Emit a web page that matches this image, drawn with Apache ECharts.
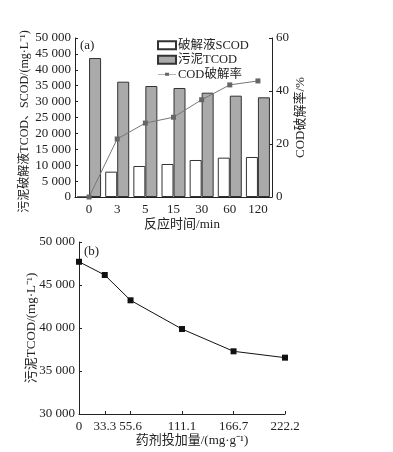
<!DOCTYPE html>
<html><head><meta charset="utf-8">
<script src="https://cdn.jsdelivr.net/npm/echarts@6/dist/echarts.min.js"></script>
<style>html,body{margin:0;padding:0;background:#fff}#c{width:393px;height:452px}</style>
</head><body><div id="c"></div>
<script>
// (a) data
var timeCats = ['0', '3', '5', '15', '30', '60', '120'];
var scod = [0, 7960, 9750, 10380, 11640, 12370, 12580];
var tcod = [43700, 36260, 34900, 34280, 32800, 31860, 31350];
var rate = [0, 21.9, 27.9, 30.1, 36.7, 42.3, 43.8];
// (b) data
var doseLabels = ['0', '33.3', '55.6', '111.1', '166.7', '222.2'];
var dosePos = [0, 27.8, 55.6, 111.1, 166.7, 222.2];
var tcodB = [47700, 46160, 43220, 39880, 37290, 36550];

var FONT = '"Liberation Serif","Noto Sans CJK SC",serif';
function fmt(v){return String(v).replace(/\B(?=(\d{3})+(?!\d))/g,' ');}
var axisLine = {show:true, lineStyle:{color:'#222', width:1}};
var lbl = {color:'#222', fontFamily:FONT, fontSize:13};

var chart = echarts.init(document.getElementById('c'));
chart.setOption({
  animation:false,
  textStyle:{fontFamily:FONT},
  graphic:[
    {type:'text', left:80, top:39, style:{text:'(a)', font:'13px '+FONT, fill:'#222'}},
    {type:'text', left:84, top:245, style:{text:'(b)', font:'13px '+FONT, fill:'#222'}}
  ],
  legend:{
    left:152, top:34, orient:'vertical', itemWidth:18, itemHeight:8, itemGap:2,
    textStyle:{fontFamily:FONT, fontSize:12.5, color:'#222', padding:[0,0,0,-3]},
    data:[{name:'破解液SCOD', icon:'rect'},{name:'污泥TCOD', icon:'rect'},{name:'COD破解率', icon:'path://M0,4.5L7,4.5L7,3L11,3L11,6L7,6L7,4.5L11,4.5L18,4.5L18,5L0,5Z'}]
  },
  grid:[
    {left:75, right:121, top:38, bottom:255},
    {left:79, right:108, top:242, bottom:38}
  ],
  xAxis:[
    {type:'category', gridIndex:0, data:timeCats, axisLine:axisLine, axisTick:{show:false},
     axisLabel:Object.assign({margin:6}, lbl),
     name:'反应时间/min', nameLocation:'middle', nameGap:21,
     nameTextStyle:{fontFamily:FONT, fontSize:13, color:'#222', padding:[0,0,0,17]}},
    {type:'value', gridIndex:1, min:0, max:222.2, axisLine:axisLine, splitLine:{show:false},
     axisTick:{show:true, inside:true, length:3, customValues:dosePos, lineStyle:{color:'#222'}},
     axisLabel:Object.assign({margin:6, customValues:dosePos, formatter:function(v){var i=dosePos.indexOf(v);return i>=0?doseLabels[i]:'';}}, lbl),
     name:'药剂投加量/(mg·g⁻¹)', nameLocation:'middle', nameGap:20,
     nameTextStyle:{fontFamily:FONT, fontSize:13, color:'#222', padding:[0,0,0,20]}}
  ],
  yAxis:[
    {type:'value', gridIndex:0, min:0, max:50000, interval:5000, axisLine:axisLine, splitLine:{show:false},
     axisTick:{show:true, inside:true, length:3, lineStyle:{color:'#222'}},
     axisLabel:Object.assign({margin:4, formatter:fmt}, lbl),
     name:'污泥破解液TCOD、SCOD/(mg·L⁻¹)', nameLocation:'middle', nameGap:44, nameRotate:90, nameMoveOverlap:false,
     nameTextStyle:{fontFamily:FONT, fontSize:12, color:'#222', padding:[0,0,0,-8]}},
    {type:'value', gridIndex:0, position:'right', min:0, max:60, interval:20, axisLine:axisLine, splitLine:{show:false},
     axisTick:{show:true, inside:true, length:3, lineStyle:{color:'#222'}},
     axisLabel:Object.assign({margin:4}, lbl),
     name:'COD破解率/%', nameLocation:'middle', nameGap:22, nameRotate:90, nameMoveOverlap:false,
     nameTextStyle:{fontFamily:FONT, fontSize:13, color:'#222'}},
    {type:'value', gridIndex:1, min:30000, max:50000, interval:5000, axisLine:axisLine, splitLine:{show:false},
     axisTick:{show:true, inside:true, length:3, lineStyle:{color:'#222'}},
     axisLabel:Object.assign({margin:4, formatter:fmt}, lbl),
     name:'污泥TCOD/(mg·L⁻¹)', nameLocation:'middle', nameGap:41, nameRotate:90, nameMoveOverlap:false,
     nameTextStyle:{fontFamily:FONT, fontSize:13, color:'#222'}}
  ],
  series:[
    {name:'破解液SCOD', type:'bar', xAxisIndex:0, yAxisIndex:0, data:scod, barWidth:12, barGap:'0%',
     itemStyle:{color:'#fff', borderColor:'#333', borderWidth:1}},
    {name:'污泥TCOD', type:'bar', xAxisIndex:0, yAxisIndex:0, data:tcod, barWidth:12, barGap:'0%',
     itemStyle:{color:'#aaa', borderColor:'#333', borderWidth:1}},
    {name:'COD破解率', type:'line', xAxisIndex:0, yAxisIndex:1, data:rate, symbol:'rect', symbolSize:5, z:5,
     lineStyle:{color:'#777', width:1}, itemStyle:{color:'#666'}},
    {name:'b', type:'line', xAxisIndex:1, yAxisIndex:2, data:dosePos.map(function(x,i){return [x,tcodB[i]];}),
     symbol:'rect', symbolSize:6, lineStyle:{color:'#111', width:1}, itemStyle:{color:'#111'}}
  ]
});
</script></body></html>
